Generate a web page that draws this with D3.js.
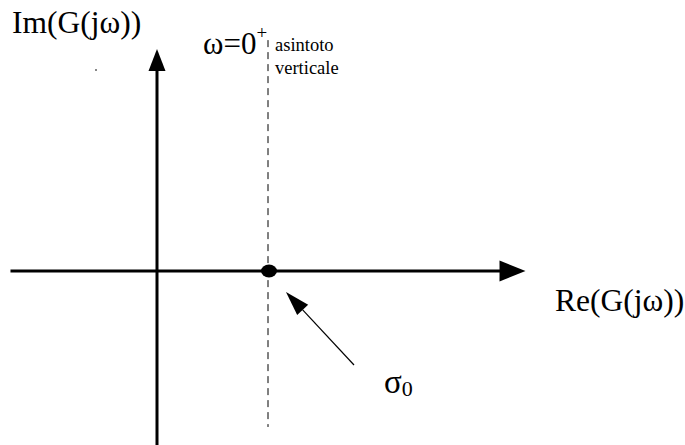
<!DOCTYPE html>
<html>
<head>
<meta charset="utf-8">
<script src="https://cdn.jsdelivr.net/npm/d3@7"></script>
<style>
html,body{margin:0;padding:0;background:#fff;}
svg{display:block;}
text{font-family:"Liberation Serif","Times New Roman",serif;fill:#000;}
</style>
</head>
<body>
<svg id="c" width="685" height="445"></svg>
<script>
// Data (in plane units)
const reAxis = [-1.32, 3.32];        // real axis extent (start, arrow tip)
const imAxis = [-1.6, 2.0];          // imaginary axis extent (bottom, arrow tip)
const sigma0 = [1.0];                // asymptote / point on real axis
const asymptoteY = [-1.405, 2.08];   // dashed vertical asymptote extent
const pointer = [[1.775, -0.847], [1.162, -0.189]]; // annotation arrow tail -> tip
const labels = {
  im: "Im(G(jω))",
  re: "Re(G(jω))",
  omega: "ω=0",
  asym1: "asintoto",
  asym2: "verticale"
};

const svg = d3.select("#c");
const x = d3.scaleLinear().domain([0, 1]).range([157, 268]);
const y = d3.scaleLinear().domain([0, 1]).range([271, 160]);

// dashed asymptote
svg.append("line")
  .attr("x1", x(sigma0[0])).attr("x2", x(sigma0[0]))
  .attr("y1", y(asymptoteY[1])).attr("y2", y(asymptoteY[0]))
  .attr("stroke", "#000").attr("stroke-width", 1)
  .attr("stroke-dasharray", "7,5");

// real axis
const reTip = x(reAxis[1]);
svg.append("line")
  .attr("x1", x(reAxis[0])).attr("x2", reTip - 24)
  .attr("y1", y(0)).attr("y2", y(0))
  .attr("stroke", "#000").attr("stroke-width", 3);
svg.append("path")
  .attr("d", `M${reTip},${y(0)} L${reTip-26},${y(0)-10.5} L${reTip-26},${y(0)+10.5} Z`)
  .attr("fill", "#000");

// imaginary axis
const imTip = y(imAxis[1]);
svg.append("line")
  .attr("x1", x(0)).attr("x2", x(0))
  .attr("y1", y(imAxis[0])).attr("y2", imTip + 20)
  .attr("stroke", "#000").attr("stroke-width", 3);
svg.append("path")
  .attr("d", `M${x(0)},${imTip} L${x(0)-8.5},${imTip+22} L${x(0)+8.5},${imTip+22} Z`)
  .attr("fill", "#000");

// point sigma0
svg.append("ellipse")
  .attr("cx", x(sigma0[0]) + 1).attr("cy", y(0))
  .attr("rx", 8).attr("ry", 6.5).attr("fill", "#000");

// annotation arrow
const [t0, t1] = pointer.map(p => [x(p[0]), y(p[1])]);
const dx = t1[0] - t0[0], dy = t1[1] - t0[1];
const L = Math.hypot(dx, dy), ux = dx / L, uy = dy / L;
const bx = t1[0] - ux * 24.5, by = t1[1] - uy * 24.5;
svg.append("line")
  .attr("x1", t0[0]).attr("y1", t0[1]).attr("x2", bx).attr("y2", by)
  .attr("stroke", "#000").attr("stroke-width", 1.2);
svg.append("path")
  .attr("d", `M${t1[0]},${t1[1]} L${bx - uy*7.5},${by + ux*7.5} L${bx + uy*7.5},${by - ux*7.5} Z`)
  .attr("fill", "#000");

// tiny artifact mark
svg.append("rect").attr("x", 95).attr("y", 69).attr("width", 2).attr("height", 2).attr("fill", "#888");

// labels
svg.append("text").attr("x", 12).attr("y", 33).attr("font-size", 31.5).text(labels.im);
svg.append("text").attr("x", 555).attr("y", 311).attr("font-size", 31.5).text(labels.re);
const om = svg.append("text").attr("x", 203).attr("y", 54).attr("font-size", 31);
om.append("tspan").text(labels.omega);
om.append("tspan").attr("font-size", 19).attr("dy", -15).text("+");
svg.append("text").attr("x", 275).attr("y", 51).attr("font-size", 18.5).text(labels.asym1);
svg.append("text").attr("x", 275).attr("y", 74).attr("font-size", 18.5).text(labels.asym2);
const sg = svg.append("text").attr("x", 384).attr("y", 393).attr("font-size", 33);
sg.append("tspan").text("σ");
sg.append("tspan").attr("font-size", 22).attr("dy", 3).text("0");
</script>
</body>
</html>
